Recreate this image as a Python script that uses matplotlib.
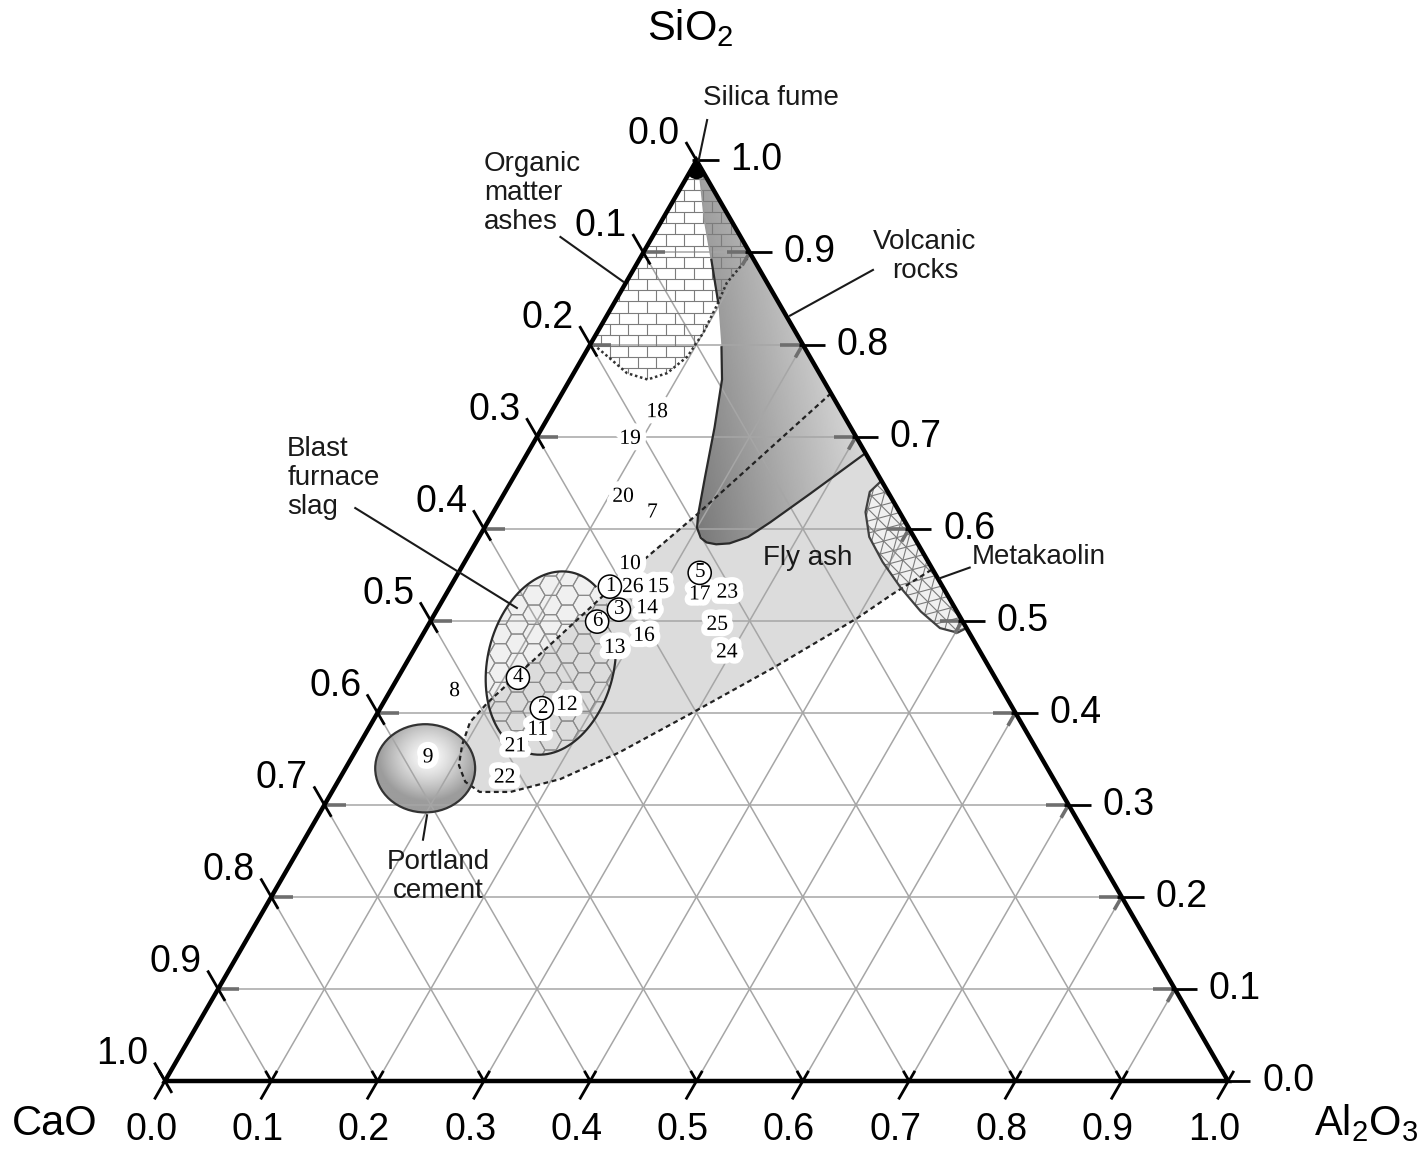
import numpy as np
import matplotlib.pyplot as plt
import matplotlib.patheffects as pe
from matplotlib.patches import Polygon, Ellipse, Circle
from matplotlib.collections import LineCollection, PolyCollection

plt.rcParams['font.family'] = ['Liberation Sans', 'DejaVu Sans']
plt.rcParams['mathtext.fontset'] = 'custom'
plt.rcParams['mathtext.rm'] = 'Liberation Sans'
plt.rcParams['mathtext.it'] = 'Liberation Sans:italic'

H = np.sqrt(3) / 2

# ---- sample compositions (CaO, Al2O3, SiO2 fractions)
sample_ids = ["18", "19", "20", "7", "10", "1", "26", "15", "5", "17", "23", "3", "14",
              "6", "16", "13", "25", "24", "4", "8", "2", "12", "11", "21", "9", "22"]
sample_cao = [0.174, 0.214, 0.252, 0.233, 0.282, 0.313, 0.292, 0.268, 0.221, 0.233, 0.206, 0.317, 0.290,
              0.344, 0.308, 0.342, 0.233, 0.239, 0.449, 0.516, 0.443, 0.418, 0.459, 0.489, 0.577, 0.516]
sample_al2o3 = [0.100, 0.089, 0.114, 0.150, 0.157, 0.150, 0.172, 0.196, 0.227, 0.239, 0.264, 0.171, 0.197,
                0.157, 0.209, 0.188, 0.272, 0.296, 0.113, 0.061, 0.152, 0.174, 0.160, 0.148, 0.072, 0.155]
sample_sio2 = [0.726, 0.697, 0.634, 0.617, 0.561, 0.537, 0.536, 0.536, 0.552, 0.528, 0.530, 0.512, 0.513,
               0.499, 0.483, 0.470, 0.495, 0.465, 0.438, 0.423, 0.405, 0.408, 0.381, 0.363, 0.351, 0.329]
circled_ids = ["1", "2", "3", "4", "5", "6"]

# ---- material fields, outlines given as (Al2O3, SiO2); CaO is the remainder
volcanic_al2o3 = [0.000, 0.014, 0.040, 0.068, 0.098, 0.125, 0.143, 0.162, 0.180, 0.194, 0.200,
                  0.209, 0.217, 0.227, 0.239, 0.253, 0.266, 0.288, 0.318]
volcanic_sio2 = [1.000, 0.979, 0.935, 0.892, 0.845, 0.797, 0.762, 0.710, 0.656, 0.615, 0.601,
                 0.590, 0.585, 0.583, 0.584, 0.591, 0.607, 0.638, 0.682]

organic_al2o3 = [0.000, 0.102, 0.095, 0.098, 0.100, 0.098, 0.088, 0.073, 0.050, 0.026, 0.000]
organic_sio2 = [1.000, 0.898, 0.867, 0.841, 0.813, 0.787, 0.769, 0.762, 0.769, 0.785, 0.802]

flyash_al2o3 = [0.253, 0.193, 0.156, 0.098, 0.092, 0.097, 0.105, 0.120, 0.139, 0.168, 0.208,
                0.249, 0.295, 0.348, 0.400, 0.420, 0.444]
flyash_sio2 = [0.747, 0.616, 0.544, 0.411, 0.390, 0.365, 0.343, 0.325, 0.314, 0.314, 0.328,
               0.357, 0.399, 0.449, 0.503, 0.529, 0.556]

metakaolin_al2o3 = [0.348, 0.343, 0.350, 0.367, 0.393, 0.424, 0.456, 0.483, 0.502, 0.508]
metakaolin_sio2 = [0.652, 0.640, 0.618, 0.591, 0.564, 0.536, 0.510, 0.492, 0.487, 0.492]

# ellipse fields: centre (CaO, Al2O3, SiO2), full axes, tilt in degrees
slag_centre = (0.410, 0.136, 0.454)
slag_axes = (0.175, 0.119, 76.6)
cement_centre = (0.586, 0.075, 0.340)
cement_axes = (0.094, 0.083, 0.0)
silica_fume = (0.005, 0.005, 0.990)

ticks = np.round(np.arange(0, 11) / 10, 1)


def ternxy(cao, al2o3, sio2):
    c = np.asarray(cao, float)
    a = np.asarray(al2o3, float)
    s = np.asarray(sio2, float)
    tot = c + a + s
    return (a + s / 2) / tot, s * H / tot


def outline(al2o3, sio2):
    a = np.asarray(al2o3)
    s = np.asarray(sio2)
    x, y = ternxy(1 - a - s, a, s)
    return np.column_stack([x, y])


def brick_lines(x0, x1, y0, y1, h, w):
    segs = []
    for j, yb in enumerate(np.arange(y0, y1, h)):
        segs.append([(x0, yb), (x1, yb)])
        shift = w / 2 if j % 2 else 0
        for xv in np.arange(x0 + shift, x1, w):
            segs.append([(xv, yb), (xv, yb + h)])
    return segs


def hex_cells(x0, x1, y0, y1, r):
    cells = []
    dy = np.sqrt(3) * r
    ang = np.radians(np.arange(0, 360, 60))
    for i, cx in enumerate(np.arange(x0 - r, x1 + r, 1.5 * r)):
        off = dy / 2 if i % 2 else 0
        for cy in np.arange(y0 - dy, y1 + dy, dy):
            cells.append(np.column_stack([cx + r * np.cos(ang), cy + off + r * np.sin(ang)]))
    return cells


def mesh_lines(x0, x1, y0, y1, step, angles):
    segs = []
    L = max(x1 - x0, y1 - y0)
    c = np.array([(x0 + x1) / 2, (y0 + y1) / 2])
    for a in np.radians(angles):
        d = np.array([np.cos(a), np.sin(a)])
        n = np.array([-d[1], d[0]])
        for k in np.arange(-L, L, step):
            p = c + n * k
            segs.append([p - d * L, p + d * L])
    return segs


fig = plt.figure(figsize=(14.22, 11.52), dpi=100)
ax = fig.add_axes([0, 0, 1, 1])
ax.axis('off')

# ---- fills
cx, cy = ternxy(*slag_centre)
slag_fill = Ellipse((cx, cy), slag_axes[0], slag_axes[1], angle=slag_axes[2],
                    fc='#f0f0f0', ec='none', zorder=1.0)
ax.add_patch(slag_fill)

fa = outline(flyash_al2o3, flyash_sio2)
ax.add_patch(Polygon(fa, closed=True, fc='#dcdcdc', ec='none', zorder=1.1))

vo = outline(volcanic_al2o3, volcanic_sio2)
vpatch = Polygon(vo, closed=True, fc='none', ec='none', transform=ax.transData)
ax.add_patch(vpatch)
gx = np.linspace(vo[:, 0].min(), vo[:, 0].max(), 200)
gy = np.linspace(vo[:, 1].min(), vo[:, 1].max(), 300)
GX, GY = np.meshgrid(gx, gy)
xr = (GX - gx[0]) / (gx[-1] - gx[0])
yr = (GY - gy[0]) / (gy[-1] - gy[0])
shade = 0.47 + 0.34 * xr + 0.16 * yr
im = ax.imshow(np.clip(shade, 0, 0.84), extent=(gx[0], gx[-1], gy[0], gy[-1]), origin='lower',
               cmap='gray', vmin=0, vmax=1, zorder=1.2, interpolation='bilinear', aspect='auto')
im.set_clip_path(vpatch)

px_, py_ = ternxy(*cement_centre)
cpatch = Ellipse((px_, py_), cement_axes[0], cement_axes[1], angle=cement_axes[2],
                 fc='none', ec='none', transform=ax.transData)
ax.add_patch(cpatch)
ex = np.linspace(px_ - cement_axes[0] / 2, px_ + cement_axes[0] / 2, 150)
ey = np.linspace(py_ - cement_axes[1] / 2, py_ + cement_axes[1] / 2, 150)
EX, EY = np.meshgrid(ex, ey)
rr = np.hypot((EX - px_ - 0.003) / (cement_axes[0] / 2), (EY - py_ - 0.010) / (cement_axes[1] / 2))
glow = 0.99 - 0.38 * np.clip(rr, 0, 1) ** 1.3
im2 = ax.imshow(glow, extent=(ex[0], ex[-1], ey[0], ey[-1]), origin='lower', cmap='gray',
                vmin=0, vmax=1, zorder=1.3, interpolation='bilinear', aspect='auto')
im2.set_clip_path(cpatch)

mk = outline(metakaolin_al2o3, metakaolin_sio2)
mpatch = Polygon(mk, closed=True, fc='#f0f0f0', ec='none', zorder=1.4)
ax.add_patch(mpatch)

# ---- ternary grid
grid = []
for v in ticks[1:-1]:
    grid.append(np.column_stack(ternxy([1 - v, 0], [0, 1 - v], [v, v])))
    grid.append(np.column_stack(ternxy([v, v], [0, 1 - v], [1 - v, 0])))
    grid.append(np.column_stack(ternxy([1 - v, 0], [v, v], [0, 1 - v])))
ax.add_collection(LineCollection(grid, colors='#a6a6a6', linewidths=1.1, zorder=2))

# ---- fill patterns
og = outline(organic_al2o3, organic_sio2)
opatch = Polygon(og, closed=True, fc='none', ec='none', transform=ax.transData)
ax.add_patch(opatch)
bricks = LineCollection(brick_lines(og[:, 0].min(), og[:, 0].max(), og[:, 1].min(), og[:, 1].max(),
                                    0.0105, 0.0175), colors='#7c7c7c', linewidths=0.8, zorder=2.5)
ax.add_collection(bricks)
bricks.set_clip_path(opatch)

hexes = PolyCollection(hex_cells(cx - 0.1, cx + 0.1, cy - 0.1, cy + 0.1, 0.0105),
                       facecolors='none', edgecolors='#8a8a8a', linewidths=0.8, zorder=2.5)
ax.add_collection(hexes)
hexes.set_clip_path(slag_fill)

mesh = LineCollection(mesh_lines(mk[:, 0].min(), mk[:, 0].max(), mk[:, 1].min(), mk[:, 1].max(),
                                 0.011, [15, 75, 135]), colors='#7a7a7a', linewidths=0.8, zorder=2.5)
ax.add_collection(mesh)
mesh.set_clip_path(mpatch)

# ---- outlines
ax.plot(fa[:, 0], fa[:, 1], color='#222222', lw=1.6, ls=(0, (2.2, 1.6)), zorder=3)
ax.plot(og[1:, 0], og[1:, 1], color='#333333', lw=1.8, ls=(0, (1.0, 1.1)), zorder=3)
top = np.array(volcanic_sio2) >= 0.84
ax.plot(vo[top, 0], vo[top, 1], color='#9a9a9a', lw=1.0, zorder=3)
ax.plot(vo[~top, 0], vo[~top, 1], color='#2a2a2a', lw=1.6, zorder=3)
ax.plot(vo[3:5, 0], vo[3:5, 1], color='#2a2a2a', lw=1.6, zorder=3)
ax.plot(mk[:, 0], mk[:, 1], color='#404040', lw=1.6, zorder=3)
t = np.radians(np.linspace(-24, 281, 300))
a_, b_, th = slag_axes[0] / 2, slag_axes[1] / 2, np.radians(slag_axes[2])
ax.plot(cx + a_ * np.cos(t) * np.cos(th) - b_ * np.sin(t) * np.sin(th),
        cy + a_ * np.cos(t) * np.sin(th) + b_ * np.sin(t) * np.cos(th),
        color='#2a2a2a', lw=1.6, zorder=3)
ax.add_patch(Ellipse((px_, py_), cement_axes[0], cement_axes[1], angle=cement_axes[2],
                     fc='none', ec='#333333', lw=1.6, zorder=3))

# ---- triangle frame
corners = np.column_stack(ternxy([1, 0, 0], [0, 1, 0], [0, 0, 1]))
frame = Polygon(corners, closed=True, fc='none', ec='black', lw=3.2, joinstyle='miter', zorder=4)
ax.add_patch(frame)
sx, sy = ternxy(*silica_fume)
fume = Circle((sx, sy), 0.009, fc='black', ec='none', zorder=4)
ax.add_patch(fume)
fume.set_clip_path(frame)

# ---- axis ticks and labels
up_r = np.array([0.5, H])
up_l = np.array([-0.5, H])
black, stubs = [], []
for v in ticks:
    pl = np.array(ternxy(v, 0, 1 - v))        # CaO axis (left)
    pr = np.array(ternxy(0, 1 - v, v))        # SiO2 axis (right)
    pb = np.array(ternxy(1 - v, v, 0))        # Al2O3 axis (bottom)
    black.append([pl + 0.020 * up_l, pl - 0.013 * up_l])
    black.append([pr + [0.021, 0], pr - [0.004, 0]])
    black.append([pb - 0.020 * up_r, pb + 0.011 * up_r])
    black.append([pb, pb + 0.011 * up_l])
    if 0 < v < 1:
        stubs.append([pl, pl + [0.020, 0]])
        stubs.append([pr, pr - [0.021, 0]])
        stubs.append([pr, pr - 0.014 * up_r])
    lab = f"{v:.1f}"
    ax.text(pl[0] - 0.040, pl[1] + 0.025, lab, fontsize=27, ha='center', va='center', zorder=5)
    ax.text(pr[0] + 0.032, pr[1], lab, fontsize=27, ha='left', va='center', zorder=5)
    ax.text(pb[0] - 0.013, pb[1] - 0.046, lab, fontsize=27, ha='center', va='center', zorder=5)
ax.add_collection(LineCollection(stubs, colors='#6e6e6e', linewidths=2.6, zorder=3.5))
ax.add_collection(LineCollection(black, colors='black', linewidths=2.0, zorder=4))

ax.text(0.494, 0.979, r'SiO$_\mathrm{2}$', fontsize=30, ha='center', va='baseline')
ax.text(-0.1035, -0.0508, 'CaO', fontsize=30, ha='center', va='baseline')
ax.text(1.1298, -0.0508, r'Al$_\mathrm{2}$O$_\mathrm{3}$', fontsize=30, ha='center', va='baseline')

# ---- field labels with leader lines
fields = [
    ("Silica fume", (0.570, 0.925), 'center', [(0.510, 0.904), (0.502, 0.866)]),
    ("Organic\nmatter\nashes", (0.300, 0.835), 'left', [(0.372, 0.794), (0.431, 0.752)]),
    ("Volcanic\nrocks", (0.715, 0.776), 'center', [(0.666, 0.763), (0.588, 0.720)]),
    ("Blast\nfurnace\nslag", (0.115, 0.567), 'left', [(0.179, 0.539), (0.331, 0.445)]),
    ("Fly ash", (0.605, 0.492), 'center', None),
    ("Metakaolin", (0.759, 0.493), 'left', [(0.757, 0.483), (0.729, 0.473)]),
    ("Portland\ncement", (0.257, 0.192), 'center', [(0.2465, 0.250), (0.2427, 0.227)]),
]
for text, (tx, ty), ha, leader in fields:
    ax.text(tx, ty, text, fontsize=20, ha=ha, va='center', multialignment=ha,
            linespacing=1.15, color='#1a1a1a', zorder=5)
    if leader:
        (x0, y0), (x1, y1) = leader
        ax.plot([x0, x1], [y0, y1], color='#1a1a1a', lw=1.5, zorder=5)

# ---- sample numbers (circled ones sit above the white halos of their neighbours)
xs, ys = ternxy(sample_cao, sample_al2o3, sample_sio2)
halo = [pe.withStroke(linewidth=9, foreground='white')]
for sid, x, y in zip(sample_ids, xs, ys):
    if sid in circled_ids:
        ax.text(x, y, sid, fontsize=15, family='Liberation Serif', ha='center', va='center',
                zorder=7,
                bbox=dict(boxstyle='circle,pad=0.1', fc='white', ec='black', lw=1.1))
    else:
        ax.text(x, y, sid, fontsize=15.5, family='Liberation Serif', ha='center', va='center',
                zorder=6, path_effects=halo)

ax.set_xlim(-165 / 1063, 1257 / 1063)
ax.set_ylim(-71 / 1063, 1081 / 1063)
fig.savefig('out.png', dpi=100)
